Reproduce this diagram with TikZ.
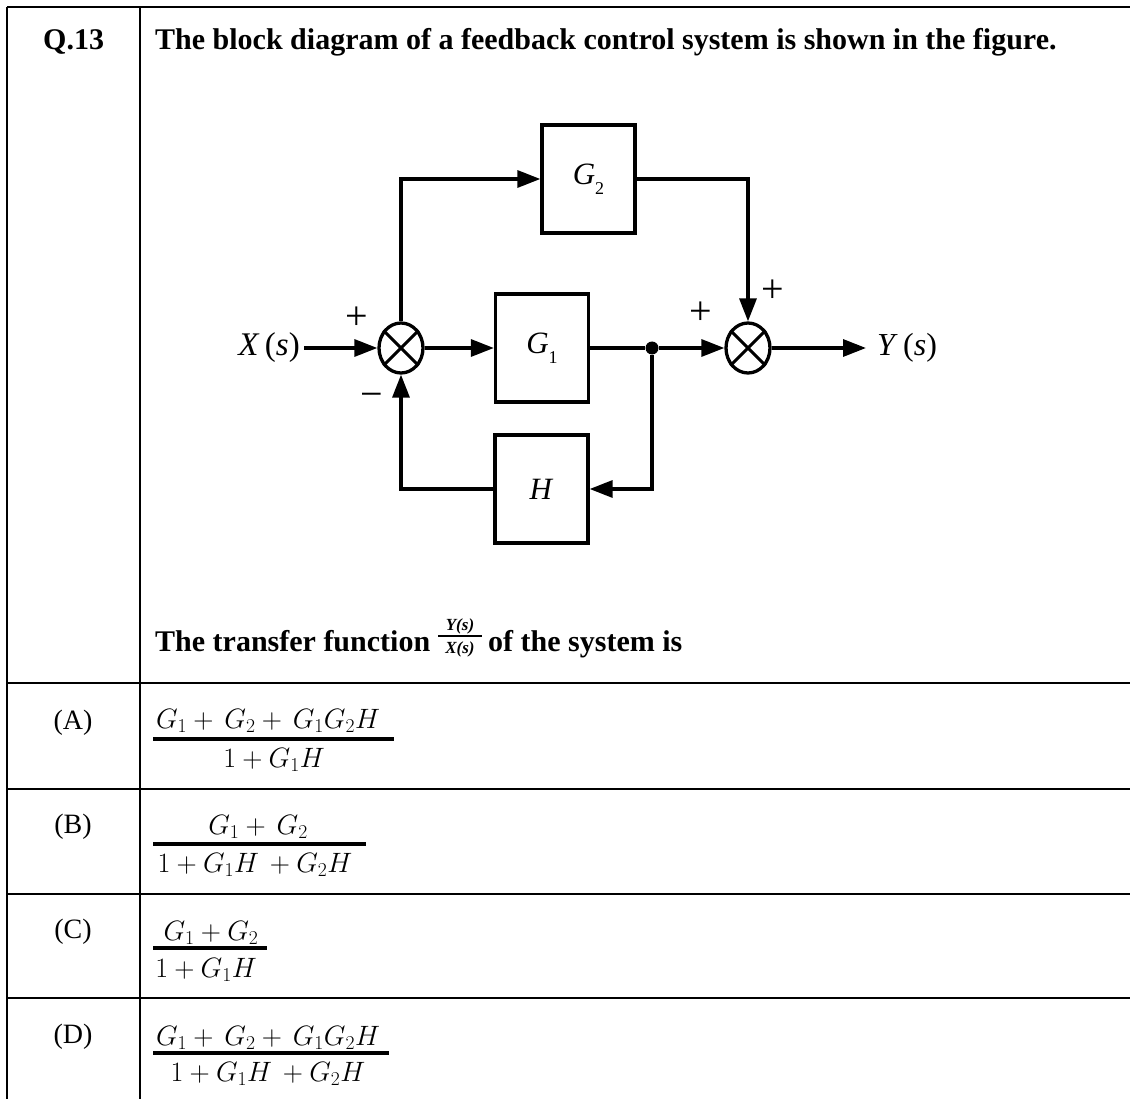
\RequirePackage{fix-cm}
\documentclass[tikz,border=0pt]{standalone}
\usepackage{fontspec}
\setmainfont{Liberation Serif}
\usetikzlibrary{arrows.meta,shapes.geometric}
\newcommand\hb{\fontsize{30}{32}\selectfont\bfseries}
\newcommand\lf{\fontsize{28}{30}\selectfont}
\newcommand\mf{\fontsize{28}{29}\selectfont}
\newcommand\blkfont{\fontsize{31}{31}\selectfont}
\newcommand\sgn{\fontsize{40}{40}\selectfont}
\newcommand\subd[1]{\raisebox{-0.32em}{\fontsize{18}{18}\selectfont #1}}
\tikzset{
  tline/.style={line width=2.7pt},
  wire/.style={line width=3.3pt},
  arr/.style={wire,-{Triangle[length=23pt,width=17pt]}},
  blk/.style={draw,line width=3.3pt,minimum width=93pt,minimum height=108pt,inner sep=0pt,font=\blkfont},
  sumj/.style={draw,ellipse,line width=3.3pt,minimum width=44pt,minimum height=50pt,inner sep=0pt},
  txt/.style={inner sep=0pt,anchor=base west},
  ctxt/.style={inner sep=0pt,anchor=base},
  fbar/.style={line width=3.6pt},
  sign/.style={inner sep=0pt,font=\sgn},
}
\begin{document}
\begin{tikzpicture}[x=1pt,y=-1pt]
\useasboundingbox (0,0) rectangle (1130,1099);
% table
\draw[tline] (7,7) -- (1130,7);
\draw[tline] (7,7) -- (7,1099);
\draw[tline] (140,7) -- (140,1099);
\foreach \yy in {683,789,894,998} \draw[tline] (7,\yy) -- (1130,\yy);
% header
\node[txt,font=\hb] (q) at (43,50) {Q.13};
\node[txt,font=\hb] (hd) at (155,50) {The block diagram of a feedback control system is shown in the figure.};
% diagram
\node[sumj] (s1) at (401,348) {};
\node[sumj] (s2) at (748,348) {};
\foreach \s in {s1,s2}{
  \draw[line width=3pt] (\s.45) -- (\s.225);
  \draw[line width=3pt] (\s.135) -- (\s.315);
}
\node[blk] (g2) at (588.5,179) {\textit{G}\subd{2}};
\node[blk] (g1) at (542,348) {\textit{G}\subd{1}};
\node[blk] (h) at (541.5,489) {\textit{H}};
\node[circle,fill,inner sep=0pt,minimum size=13pt] (jd) at (652,348) {};
\node[inner sep=4pt,anchor=east,font=\fontsize{33}{33}\selectfont] (xs) at (304,348) {\textit{X}$\,$(\textit{s})};
\node[inner sep=0pt,anchor=west,font=\fontsize{32}{32}\selectfont] (ys) at (877,348) {\textit{Y}$\,$(\textit{s})};
\coordinate (yend) at (866,348);
\draw[arr] (xs.east) -- (s1.west);
\draw[arr] (s1.east) -- (g1.west);
\draw[arr] (s1.north) |- (g2.west);
\draw[arr] (g2.east) -| (s2.north);
\draw[wire] (g1.east) -- (jd);
\draw[arr] (jd) -- (s2.west);
\draw[arr] (jd) |- (h.east);
\draw[arr] (h.west) -| (s1.south);
\draw[arr] (s2.east) -- (yend);
\node[sign] (p1) at (357,318) {+};
\node[sign] (m1) at (372,400) {−};
\node[sign] (p2) at (701,313) {+};
\node[sign] (p3) at (773,291) {+};
% transfer function line
\node[txt,font=\hb] (tf1) at (155,651) {The transfer function};
\node[ctxt,font=\fontsize{17}{17}\selectfont\bfseries\itshape] (tfn) at (460,630) {Y(s)};
\node[ctxt,font=\fontsize{17}{17}\selectfont\bfseries\itshape] (tfd) at (460,653) {X(s)};
\draw[line width=1.2pt] (438,636) -- (482,636);
\node[txt,font=\hb] (tf2) at (488,651) {of the system is};
% options
\node[ctxt,font=\lf] (la) at (73,729) {(A)};
\node[ctxt,font=\lf] (lb) at (73,833) {(B)};
\node[ctxt,font=\lf] (lc) at (73,938) {(C)};
\node[ctxt,font=\lf] (ld) at (73,1043) {(D)};
% A
\node[ctxt,font=\mf] (an) at (268,728) {$G_1 + \,G_2 + \,G_1G_2H$};
\draw[fbar] (153,739) -- (394,739);
\node[ctxt,font=\mf] (ad) at (274,767) {$1 + G_1H$};
% B
\node[ctxt,font=\mf] (bn) at (258,834) {$G_1 + \,G_2$};
\draw[fbar] (153,844) -- (366,844);
\node[ctxt,font=\mf] (bd) at (255,872) {$1 + G_1H \,+ G_2H$};
% C
\node[ctxt,font=\mf] (cn) at (211,940) {$G_1 + G_2$};
\draw[fbar] (153,948) -- (267,948);
\node[ctxt,font=\mf] (cd) at (206,977) {$1 + G_1H$};
% D
\node[ctxt,font=\mf] (dn) at (268,1045) {$G_1 + \,G_2 + \,G_1G_2H$};
\draw[fbar] (153,1053) -- (389,1053);
\node[ctxt,font=\mf] (dd) at (268,1081) {$1 + G_1H \,+ G_2H$};
\end{tikzpicture}
\end{document}
